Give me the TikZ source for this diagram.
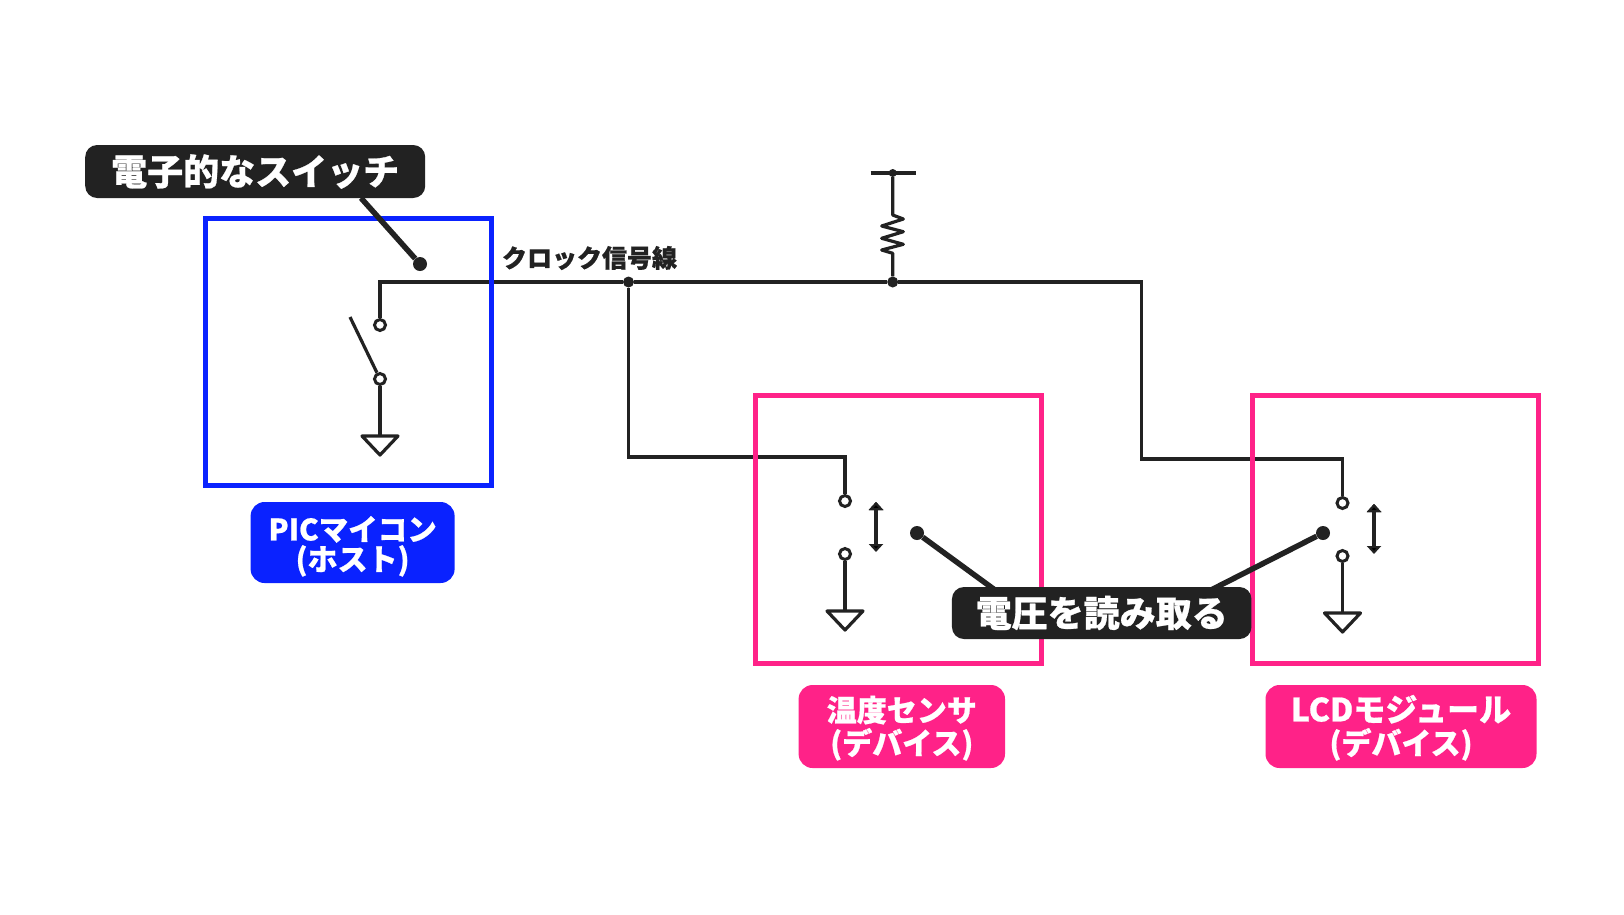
\documentclass[tikz,border=0pt]{standalone}
\usepackage{fontspec}
\setmainfont{Noto Sans CJK JP}[BoldFeatures={FakeBold=0.7}]
\usepackage{xcolor}
\usetikzlibrary{arrows.meta,positioning}
\definecolor{inkdark}{HTML}{222222}
\definecolor{hostblue}{HTML}{0A22FF}
\definecolor{devpink}{HTML}{FF2288}
\tikzset{
  chipbox/.style={rectangle,draw=#1,line width=5pt,inner sep=0pt,minimum width=286pt,minimum height=268pt},
  namebox/.style={rectangle,rounded corners=14pt,fill=#1,text=white,inner sep=0pt,align=center,font=\fontsize{30}{30}\selectfont\bfseries},
  callout/.style={rectangle,rounded corners=12pt,fill=inkdark,text=white,inner sep=0pt,font=\fontsize{36}{36}\selectfont\bfseries},
  wire/.style={draw=inkdark,line width=3.2pt},
  leader/.style={draw=inkdark,line width=5.5pt},
  contact/.style={circle,draw=inkdark,line width=3pt,fill=white,inner sep=0pt,minimum size=11pt},
  blob/.style={circle,fill=inkdark,inner sep=0pt,minimum size=#1},
  updown/.style={draw=inkdark,line width=4.5pt,{Triangle[width=14pt,length=8pt]}-{Triangle[width=14pt,length=8pt]}},
}
\newcommand{\GndMark}[1]{\draw[wire,fill=white,line join=round] (#1) ++(-18,0) -- ++(36,0) -- ++(-18,19) -- cycle;}
\begin{document}
\begin{tikzpicture}[x=1pt,y=-1pt]
\path[fill=white,use as bounding box] (0,0) rectangle (1624,914);
% wiring first, the boxes go over it
\node (swA1) [contact] at (380,325) {};
\node (swA2) [contact] at (380,379) {};
\node (swB1) [contact] at (845,501) {};
\node (swB2) [contact] at (845,554) {};
\node (swC1) [contact] at (1342.5,503) {};
\node (swC2) [contact] at (1342.5,556) {};
\node (jctB) [blob=11pt] at (628.5,282) {};
\node (jctR) [blob=11pt] at (892.7,282) {};
\node (vcc) [blob=8pt] at (892.7,173) {};
\coordinate (armA) at (350,317);
\coordinate (gndA) at (380,436);
\coordinate (gndB) at (845,611);
\coordinate (gndC) at (1342.5,613);
\coordinate (turnA) at (380,282);
\coordinate (turnC) at (1141.7,282);
\coordinate (barL) at (870.7,173);
\coordinate (barR) at (915.7,173);
%
\draw[wire] (swA1) -- (turnA) -- (jctB) -- (jctR) -- (turnC) |- (swC1.north |- 0,459) -- (swC1);
\draw[wire] (jctB) |- (swB1.north |- 0,457) -- (swB1);
\draw[wire] (barL) -- (barR);
\draw[wire,line join=round] (vcc) -- ++(0,42) -- ++(10.6,4) -- ++(-21.6,7) -- ++(21.6,5.7) -- ++(-21.6,6.6)
  -- ++(21.6,6) -- ++(-21.6,5.7) -- ++(11,3.3) -- (jctR);
\draw[wire] (armA) -- (swA2);
\path[wire] (swA2) edge (gndA);
\path[wire] (swB2) edge (gndB);
\path[wire] (swC2) edge (gndC);
\GndMark{gndA}
\GndMark{gndB}
\GndMark{gndC}
%
\node (boxA) [chipbox=hostblue,minimum height=267pt] at (348,351.5) {};
\node (boxB) [chipbox=devpink] at (898,529) {};
\node (boxC) [chipbox=devpink] at (1395.5,529) {};
%
\node (moveB) [coordinate] at (876,502) {};
\node (moveBend) [coordinate] at (876,552) {};
\node (moveC) [coordinate] at (1374,504) {};
\node (moveCend) [coordinate] at (1374,554) {};
\path[updown] (moveB) edge (moveBend);
\path[updown] (moveC) edge (moveCend);
%
\node (tipA) [blob=14pt] at (420,264) {};
\node (tipB) [blob=14pt] at (917,533) {};
\node (tipC) [blob=14pt] at (1323,533) {};
\coordinate (fromA) at (361,198);
\coordinate (fromB) at (995,590);
\coordinate (fromC) at (1211,590);
\path[leader] (fromA) edge (tipA);
\path[leader] (fromB) edge (tipB);
\path[leader] (fromC) edge (tipC);
%
\node (sayA) [callout,minimum width=340pt,minimum height=53pt] at (255.2,171.5) {電子的なスイッチ};
\node (sayB) [callout,minimum width=299.5pt,minimum height=52pt] at (1101.7,613) {電圧を読み取る};
%
\node (clk) [font=\fontsize{25}{25}\selectfont\bfseries,text=inkdark,inner sep=0pt] at (589.5,258) {クロック信号線};
%
\node (nameA) [namebox=hostblue,minimum width=204pt,minimum height=81pt] at (352.6,542.5) {\rule{0pt}{32pt}{\fontsize{29.5}{30}\selectfont PICマイコン}\\(ホスト)};
\node (nameB) [namebox=devpink,minimum width=206.4pt,minimum height=83pt] at (901.8,726.5) {\rule{0pt}{29pt}温度センサ\\[3pt](デバイス)};
\node (nameC) [namebox=devpink,minimum width=271pt,minimum height=83pt] at (1401,726.5) {\rule{0pt}{29pt}{\fontsize{32}{30}\selectfont LCDモジュール}\\[3pt](デバイス)};
\end{tikzpicture}
\end{document}
